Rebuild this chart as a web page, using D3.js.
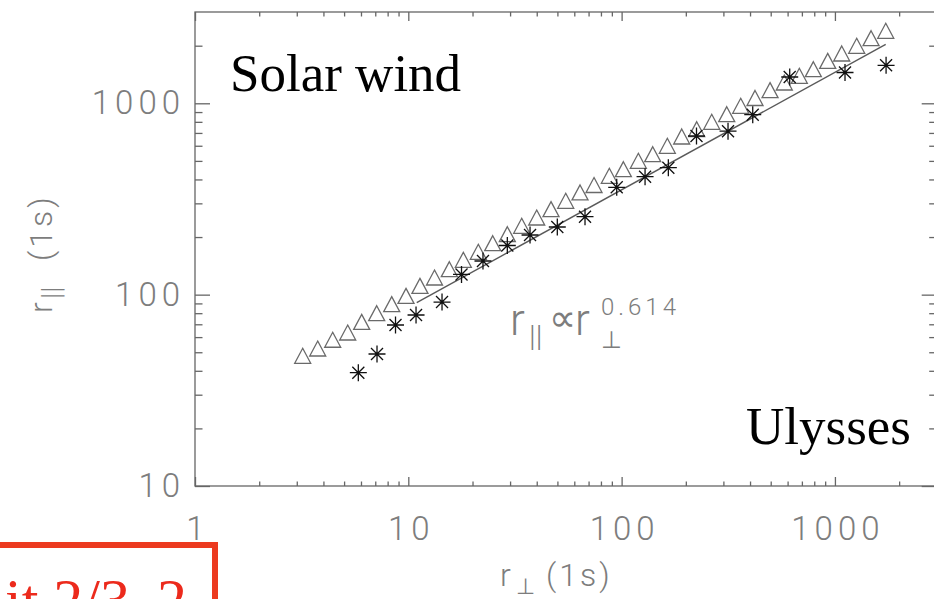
<!DOCTYPE html>
<html>
<head>
<meta charset="utf-8">
<script src="https://cdn.jsdelivr.net/npm/d3@7"></script>
<style>
  body { margin: 0; background: #fff; }
  svg { display: block; }
  .lbl { font-family: Roboto, 'Open Sans', sans-serif; font-weight: 300; fill: #7d7d7d; }
  .tick text { font-family: Roboto, 'Open Sans', sans-serif; font-weight: 300; fill: #7d7d7d; font-size: 33px; letter-spacing: 5px; }
  .tick line { stroke: #666; stroke-width: 1.3; }
</style>
</head>
<body>
<div id="chart-area"></div>
<script>
// open triangles
const triX = [3.198, 3.761, 4.421, 5.199, 6.046, 7.109, 8.360, 9.755, 11.34, 13.27,
  15.57, 18.11, 21.29, 24.87, 29.12, 34.01, 39.99, 46.67, 54.70, 63.83,
  74.25, 87.58, 101.9, 119.8, 139.9, 163.8, 191.3, 224.9, 264.5, 311.0,
  361.7, 422.0, 496.4, 579.0, 680.9, 792.1, 925.1, 1076, 1265, 1477, 1731];
const triY = [47.9, 52.3, 58.1, 63.4, 72.1, 80.0, 89.2, 98.6, 111.2, 122.9,
  135.8, 152.1, 167.5, 185.7, 207.0, 229.0, 253.0, 279.7, 309.4, 342.0,
  374.1, 417.9, 452.4, 500.6, 542.0, 599.6, 670.7, 732.1, 800.3, 877.1,
  970.3, 1066, 1171, 1284, 1392, 1507, 1667, 1821, 1998, 2189, 2393];

// asterisks
const starX = [5.830, 7.133, 8.710, 10.87, 14.39, 17.76, 22.39, 29.12, 37.21, 49.95,
  67.36, 94.85, 128.8, 165.6, 224.4, 315.4, 411.8, 613.8, 1115, 1737];
const starY = [39.1, 48.97, 69.4, 78.3, 91.5, 127.5, 149.9, 180.7, 205.0, 225.7,
  255.5, 363.9, 413.4, 460.6, 674.7, 714.8, 871.9, 1372, 1449, 1580];

// power law fit, end points
const fitX = [10.95, 1730];
const fitY = [90.8, 2032];

// ticks
const xMajor = [1, 10, 100, 1000];
const xMinor = [2, 3, 4, 5, 6, 7, 8, 9, 20, 30, 40, 50, 60, 70, 80, 90,
  200, 300, 400, 500, 600, 700, 800, 900, 2000];
const yMajor = [10, 100, 1000];
const yMinor = [20, 30, 40, 50, 60, 70, 80, 90, 200, 300, 400, 500, 600, 700, 800, 900, 2000];

const W = 934, H = 599;
const margins = { left: 195, top: 12, right: -2.7, bottom: 113 };
const width = W - margins.left - margins.right;
const height = H - margins.top - margins.bottom;

const svgRoot = d3.select('#chart-area').append('svg')
  .attr('width', W).attr('height', H);
const svg = svgRoot.append('g')
  .attr('transform', `translate(${margins.left}, ${margins.top})`);

const x = d3.scaleLog().domain([1, 3000]).range([0, width]);
const y = d3.scaleLog().domain([10, 3000]).range([height, 0]);

// frame
svg.append('rect')
  .attr('width', width).attr('height', height)
  .attr('fill', 'none').attr('stroke', '#666').attr('stroke-width', 1.3);

const axisAt = (axis, tr, vals, size, labels, pad) => {
  const g = svg.append('g').attr('transform', tr)
    .call(axis.tickValues(vals).tickSize(-size).tickSizeOuter(0)
      .tickPadding(pad || 3)
      .tickFormat(labels ? d3.format('d') : ''));
  g.select('.domain').remove();
  return g;
};

// major and minor ticks on all four sides, pointing inward
const xb = axisAt(d3.axisBottom(x), `translate(0, ${height})`, xMajor, 9, true, 31);
xb.selectAll('text').attr('dx', 2.5);
axisAt(d3.axisBottom(x), `translate(0, ${height})`, xMinor, 4.5, false);
axisAt(d3.axisTop(x), 'translate(0, 0)', xMajor, 9, false);
axisAt(d3.axisTop(x), 'translate(0, 0)', xMinor, 4.5, false);
axisAt(d3.axisLeft(y), 'translate(0, 0)', yMajor, 15, true, 10);
axisAt(d3.axisLeft(y), 'translate(0, 0)', yMinor, 7.5, false);
axisAt(d3.axisRight(y), `translate(${width}, 0)`, yMajor, 15, false);
axisAt(d3.axisRight(y), `translate(${width}, 0)`, yMinor, 7.5, false);

// fit line
svg.append('path')
  .datum(d3.zip(fitX, fitY))
  .attr('d', d3.line().x(d => x(d[0])).y(d => y(d[1])))
  .attr('fill', 'none').attr('stroke', '#5a5a5a').attr('stroke-width', 1.4);

// triangles
svg.selectAll('.tri')
  .data(d3.zip(triX, triY))
  .enter().append('path')
  .attr('class', 'tri')
  .attr('transform', d => `translate(${x(d[0])}, ${y(d[1])})`)
  .attr('d', 'M0,-7.5L8,7.5L-8,7.5Z')
  .attr('fill', 'none').attr('stroke', '#6a6a6a').attr('stroke-width', 1.3);

// asterisks
const r = 8.5, k = r * 0.707;
svg.selectAll('.star')
  .data(d3.zip(starX, starY))
  .enter().append('path')
  .attr('class', 'star')
  .attr('transform', d => `translate(${x(d[0])}, ${y(d[1])})`)
  .attr('d', `M0,${-r}V${r}M${-r},0H${r}M${-k},${-k}L${k},${k}M${-k},${k}L${k},${-k}`)
  .attr('fill', 'none').attr('stroke', '#111').attr('stroke-width', 1.3);

// axis titles
const xt = svgRoot.append('text').attr('class', 'lbl').attr('font-size', 32);
xt.append('tspan').attr('x', 500).attr('y', 586).text('r');
xt.append('tspan').attr('x', 516).attr('y', 594).attr('font-size', 22).text('⊥');
xt.append('tspan').attr('x', 546).attr('y', 586).attr('letter-spacing', 3).text('(1s)');

const yt = svgRoot.append('text').attr('class', 'lbl').attr('font-size', 32)
  .attr('transform', 'rotate(-90)');
yt.append('tspan').attr('x', -313).attr('y', 52).text('r');
yt.append('tspan').attr('x', -299).attr('y', 61).attr('font-size', 28).text('||');
yt.append('tspan').attr('x', -261).attr('y', 52).attr('letter-spacing', 3).text('(1s)');

// power law annotation
const an = svgRoot.append('text').attr('class', 'lbl').attr('font-size', 44);
an.append('tspan').attr('x', 510).attr('y', 335).text('r');
an.append('tspan').attr('x', 529).attr('y', 346).attr('font-size', 30).text('||');
an.append('tspan').attr('x', 549).attr('y', 331).attr('font-size', 38).text('∝');
an.append('tspan').attr('x', 575).attr('y', 335).text('r');
an.append('tspan').attr('x', 601).attr('y', 348).attr('font-size', 24).text('⊥');
an.append('tspan').attr('x', 601).attr('y', 315).attr('font-size', 24)
  .attr('letter-spacing', 4).text('0.614');

// panel labels
svgRoot.append('text')
  .attr('x', 230).attr('y', 91)
  .attr('font-family', "'Liberation Serif', 'Times New Roman', serif")
  .attr('font-size', 53).attr('fill', '#000')
  .text('Solar wind');
svgRoot.append('text')
  .attr('x', 746).attr('y', 444)
  .attr('font-family', "'Liberation Serif', 'Times New Roman', serif")
  .attr('font-size', 53).attr('fill', '#000')
  .text('Ulysses');

// red slide box overlapping lower left corner
svgRoot.append('rect')
  .attr('x', -10).attr('y', 545).attr('width', 225).attr('height', 80)
  .attr('fill', '#fff').attr('stroke', '#ec3a1f').attr('stroke-width', 6);
const red = svgRoot.append('text')
  .attr('x', 5).attr('y', 620)
  .attr('font-family', "'Liberation Serif', 'Times New Roman', serif")
  .attr('font-size', 60).attr('fill', '#ec2a1c');
red.append('tspan').text('it 2/3');
red.append('tspan').attr('x', 157).text('2');
</script>
</body>
</html>
